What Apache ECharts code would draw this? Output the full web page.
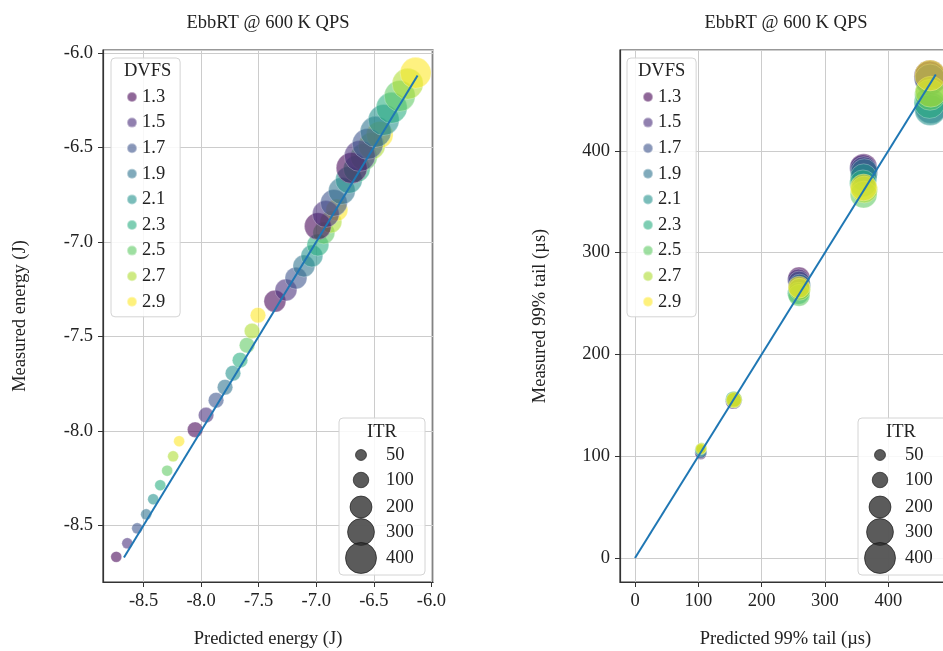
<!DOCTYPE html>
<html><head><meta charset="utf-8">
<script src="https://cdn.jsdelivr.net/npm/echarts@6/dist/echarts.min.js"></script>
<style>html,body{margin:0;padding:0;background:#fff}#c{width:943px;height:651px}</style>
</head><body><div id="c"></div>
<script>
// ---- data ----
const dvfsLevels = ['1.3','1.5','1.7','1.9','2.1','2.3','2.5','2.7','2.9'];
const dvfsColors = ['#440154','#472c7a','#3b528b','#2c728e','#21918c','#28ae80','#5ec962','#addc30','#fde725'];
const itrLevels = [50, 100, 200, 300, 400];
const itrLegendValues = [50, 100, 200, 300, 400];
// rows: ITR level, columns: DVFS level
const energyPredicted = [
  [-8.737,-8.641,-8.555,-8.477,-8.416,-8.355,-8.295,-8.243,-8.191],
  [-8.052,-7.957,-7.870,-7.792,-7.723,-7.662,-7.601,-7.558,-7.506],
  [-7.359,-7.263,-7.176,-7.107,-7.038,-6.986,-6.934,-6.873,-6.821],
  [-6.986,-6.917,-6.847,-6.778,-6.717,-6.648,-6.587,-6.518,-6.449],
  [-6.692,-6.622,-6.553,-6.484,-6.414,-6.345,-6.275,-6.206,-6.137]
];
const energyMeasured = [
  [-8.667,-8.595,-8.516,-8.442,-8.362,-8.288,-8.211,-8.135,-8.055],
  [-7.994,-7.917,-7.838,-7.769,-7.695,-7.626,-7.547,-7.472,-7.388],
  [-7.314,-7.255,-7.192,-7.128,-7.075,-7.017,-6.953,-6.895,-6.832],
  [-6.917,-6.853,-6.794,-6.731,-6.673,-6.614,-6.551,-6.493,-6.434],
  [-6.609,-6.546,-6.482,-6.418,-6.355,-6.291,-6.228,-6.164,-6.106]
];
const tailPredicted = [
  [104,103,104,105,104,103,104,105,104],
  [156,155,156,157,156,155,156,157,156],
  [259,258,259,260,259,258,259,260,259],
  [361,360,361,362,361,360,361,362,361],
  [466,465,466,467,466,465,466,467,466]
];
const tailMeasured = [
  [102,103,103,104,105,106,107,108,107],
  [154,154,155,155,156,156,155,156,155],
  [275,273,271,268,264,260,258,264,266],
  [384,383,381,379,374,368,357,362,364],
  [474,473,470,442,440,447,455,458,474]
];
const energyFit = [-8.67, -6.12];
const tailFit = [0, 475];

// ---- chart ----
const FONT = 'Liberation Serif';
const FS = 18.5;
const TXT = '#222';
const sizeOf = itr => 1.55 * Math.sqrt(itr);
const grids = [
  {left: 103, top: 50, width: 330, height: 532},
  {left: 620, top: 50, width: 331, height: 532}
];
const series = [];
function addScatter(pred, meas, axis) {
  itrLevels.forEach((itr, i) => {
    dvfsLevels.forEach((d, j) => {
      series.push({
        type: 'scatter', name: d, xAxisIndex: axis, yAxisIndex: axis,
        data: [[pred[i][j], meas[i][j], itr]],
        symbolSize: v => sizeOf(v[2]),
        itemStyle: {color: dvfsColors[j], opacity: 0.58, borderColor: 'rgba(255,255,255,0.7)', borderWidth: 0.7},
        emphasis: {disabled: true}, z: 2
      });
    });
  });
}
addScatter(energyPredicted, energyMeasured, 0);
addScatter(tailPredicted, tailMeasured, 1);
series.push({type:'line', xAxisIndex:0, yAxisIndex:0, data: energyFit.map(v=>[v,v]),
  showSymbol:false, lineStyle:{color:'#1f77b4', width:2}, z:5, silent:true});
series.push({type:'line', xAxisIndex:1, yAxisIndex:1, data: tailFit.map(v=>[v,v]),
  showSymbol:false, lineStyle:{color:'#1f77b4', width:2}, z:5, silent:true});

function axisBase(extra) {
  return Object.assign({
    type: 'value', scale: true, splitNumber: 5,
    axisLine: {show: true, onZero: false, lineStyle: {color: '#333', width: 1.2}},
    axisTick: {show: true, length: 5, lineStyle: {color: '#333', width: 1}},
    axisLabel: {color: TXT, fontFamily: FONT, fontSize: FS, margin: 10, showMinLabel: false, showMaxLabel: false},
    splitLine: {show: true, lineStyle: {color: '#cccccc', width: 1}},
    nameLocation: 'middle',
    nameTextStyle: {color: TXT, fontFamily: FONT, fontSize: FS}
  }, extra);
}
const fmt1 = v => v.toFixed(1);
const xAxes = [
  axisBase({gridIndex: 0, min: -8.852, max: -5.986, name: 'Predicted energy (J)', nameGap: 48}),
  axisBase({gridIndex: 1, min: -23.7, max: 499, name: 'Predicted 99% tail (µs)', nameGap: 48})
];
xAxes[0].axisLabel = Object.assign({}, xAxes[0].axisLabel, {formatter: fmt1});
const yAxes = [
  axisBase({gridIndex: 0, min: -8.80, max: -5.985, name: 'Measured energy (J)', nameGap: 73}),
  axisBase({gridIndex: 1, min: -23.6, max: 499, name: 'Measured 99% tail (µs)', nameGap: 70})
];
yAxes[0].axisLabel = Object.assign({}, yAxes[0].axisLabel, {formatter: fmt1});

function dvfsLegend(left) {
  return {
    data: dvfsLevels, orient: 'vertical', left: left, top: 58,
    icon: 'circle', itemWidth: 10, itemHeight: 10, itemGap: 5.6, itemTextGap: 13,
    padding: [29, 15, 5, 15],
    backgroundColor: 'rgba(255,255,255,0.85)', borderColor: '#d4d4d4', borderWidth: 1, borderRadius: 4,
    itemStyle: {opacity: 0.6},
    textStyle: {color: TXT, fontFamily: FONT, fontSize: FS, lineHeight: 20},
    selectedMode: false
  };
}

function itrLegend(x, y, w) {
  const children = [{type:'rect', z: 100, shape:{x:x, y:y, width:w, height:157, r:4},
    style:{fill:'rgba(255,255,255,0.85)', stroke:'#d4d4d4', lineWidth:1}}];
  children.push({type:'text', z: 101, style:{text:'ITR', x: x + 43, y: y + 14, align:'center', verticalAlign:'middle',
    font: FS + 'px "' + FONT + '"', fill: TXT}});
  const ys = [37, 62, 89, 114, 140];
  itrLegendValues.forEach((v, k) => {
    children.push({type:'circle', z: 101, shape:{cx: x + 22, cy: y + ys[k], r: sizeOf(v)/2},
      style:{fill:'rgba(45,45,45,0.78)', stroke:'rgba(20,20,20,0.8)', lineWidth:0.8}});
    children.push({type:'text', z: 101, style:{text:String(v), x: x + 47, y: y + ys[k], align:'left', verticalAlign:'middle',
      font: FS + 'px "' + FONT + '"', fill: TXT}});
  });
  return {type:'group', children: children, z: 100};
}

const option = {
  animation: false,
  backgroundColor: '#fff',
  title: [
    {text: 'EbbRT @ 600 K QPS', left: 263, top: 9, textAlign: 'center',
     textStyle: {color: TXT, fontFamily: FONT, fontSize: FS, fontWeight: 'normal'}},
    {text: 'EbbRT @ 600 K QPS', left: 781, top: 9, textAlign: 'center',
     textStyle: {color: TXT, fontFamily: FONT, fontSize: FS, fontWeight: 'normal'}}
  ],
  grid: grids.map(g => Object.assign({show: true, borderColor: '#333', borderWidth: 1.2, backgroundColor: '#fff',
    containLabel: false, outerBoundsMode: 'none'}, g)),
  xAxis: xAxes,
  yAxis: yAxes,
  legend: [dvfsLegend(111), dvfsLegend(627)],
  graphic: [
    {type:'text', left: 151 - 27, top: 62, z: 100, style:{text:'DVFS', font: FS + 'px "' + FONT + '"', fill: TXT}},
    {type:'text', left: 665 - 27, top: 62, z: 100, style:{text:'DVFS', font: FS + 'px "' + FONT + '"', fill: TXT}},
    itrLegend(339, 418, 86),
    itrLegend(858, 418, 90)
  ],
  series: series
};
const chart = echarts.init(document.getElementById('c'), null, {renderer: 'canvas'});
chart.setOption(option);
</script></body></html>
